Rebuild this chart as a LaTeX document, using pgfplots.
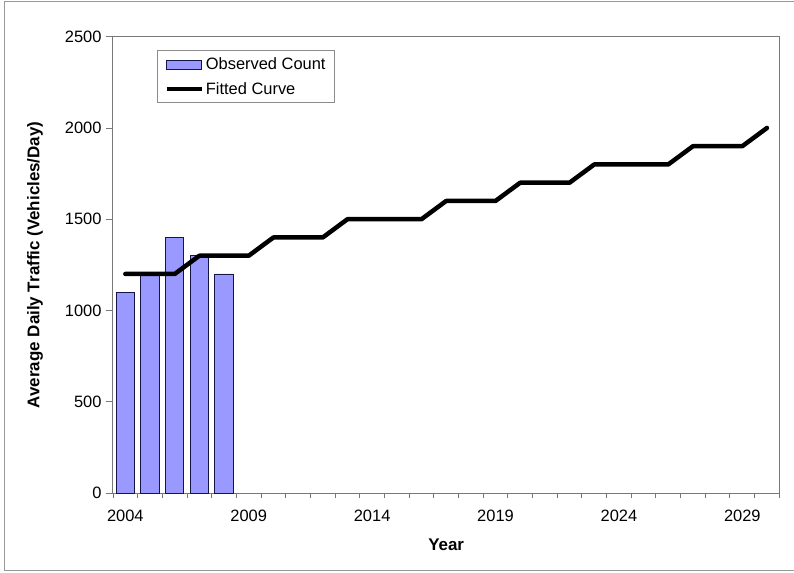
\documentclass[border=0pt]{standalone}
\usepackage{fontspec}
\setmainfont{Liberation Sans}
\usepackage{pgfplots}
\pgfplotsset{compat=1.18}
\definecolor{barfill}{RGB}{153,153,255}
\definecolor{baredge}{RGB}{20,20,70}
\definecolor{axgray}{RGB}{120,120,120}
\pgfplotsset{
  barlegend/.style={legend image code/.code={\draw[##1] (0bp,-4.5bp) rectangle (35bp,4.5bp);}},
  linelegend/.style={legend image code/.code={\draw[##1, line cap=butt] (0bp,0bp) -- (35bp,0bp);}},
}
\begin{document}
\begin{tikzpicture}
\begin{axis}[
  name=ax, at={(0,0)}, anchor=south west,
  scale only axis, width=666.3bp, height=456.3bp,
  xmin=2003.5, xmax=2030.5, ymin=0, ymax=2500,
  xtick={2004,2009,2014,2019,2024,2029},
  minor xtick={2003.5,2004.5,...,2030.5},
  ytick={0,500,1000,1500,2000,2500},
  major x tick style={draw=none},
  tick pos=left, tick align=outside,
  major tick length=7bp, minor tick length=5bp,
  every tick/.style={axgray, line width=0.9bp},
  axis line style={axgray, line width=1bp},
  /pgf/number format/1000 sep={},
  /pgf/number format/assume math mode=true,
  ticklabel style={font=\fontsize{16.5}{19}\selectfont},
  xticklabel style={yshift=-6bp},
  yticklabel style={xshift=-1bp},
  xlabel={Year}, ylabel={Average Daily Traffic (Vehicles/Day)},
  label style={font=\fontsize{17}{20}\selectfont\bfseries},
  xlabel style={at={(axis description cs:0.5,-0.114)}, anchor=center},
  ylabel style={at={(axis description cs:-0.117,0.5)}, anchor=center},
  legend style={at={(axis description cs:0.066,0.97)}, anchor=north west,
    draw=black!45, line width=0.8bp, font=\fontsize{16.5}{19}\selectfont,
    inner xsep=7bp, inner ysep=5bp, row sep=7bp},
  legend cell align=left,
  clip=false,
]
\addplot[ybar, bar width=0.74, bar shift=0pt, fill=barfill, draw=baredge, line width=0.9bp, barlegend]
  coordinates {(2004,1100)(2005,1200)(2006,1400)(2007,1300)(2008,1200)};
\addlegendentry{Observed Count}
\addplot[black, line width=4.5bp, sharp plot, line join=round, line cap=round, mark=none, linelegend]
  coordinates {
  (2004,1200)(2005,1200)(2006,1200)(2007,1300)(2008,1300)(2009,1300)
  (2010,1400)(2011,1400)(2012,1400)(2013,1500)(2014,1500)(2015,1500)(2016,1500)
  (2017,1600)(2018,1600)(2019,1600)(2020,1700)(2021,1700)(2022,1700)
  (2023,1800)(2024,1800)(2025,1800)(2026,1800)(2027,1900)(2028,1900)(2029,1900)
  (2030,2000)};
\addlegendentry{Fitted Curve}
\end{axis}
\draw[black!40, line width=1bp] (-108bp,-77bp) rectangle (690bp,491.5bp);
\pgfresetboundingbox
\path[use as bounding box] (-113bp,-80bp) rectangle ++(794bp,573bp);
\end{tikzpicture}
\end{document}
